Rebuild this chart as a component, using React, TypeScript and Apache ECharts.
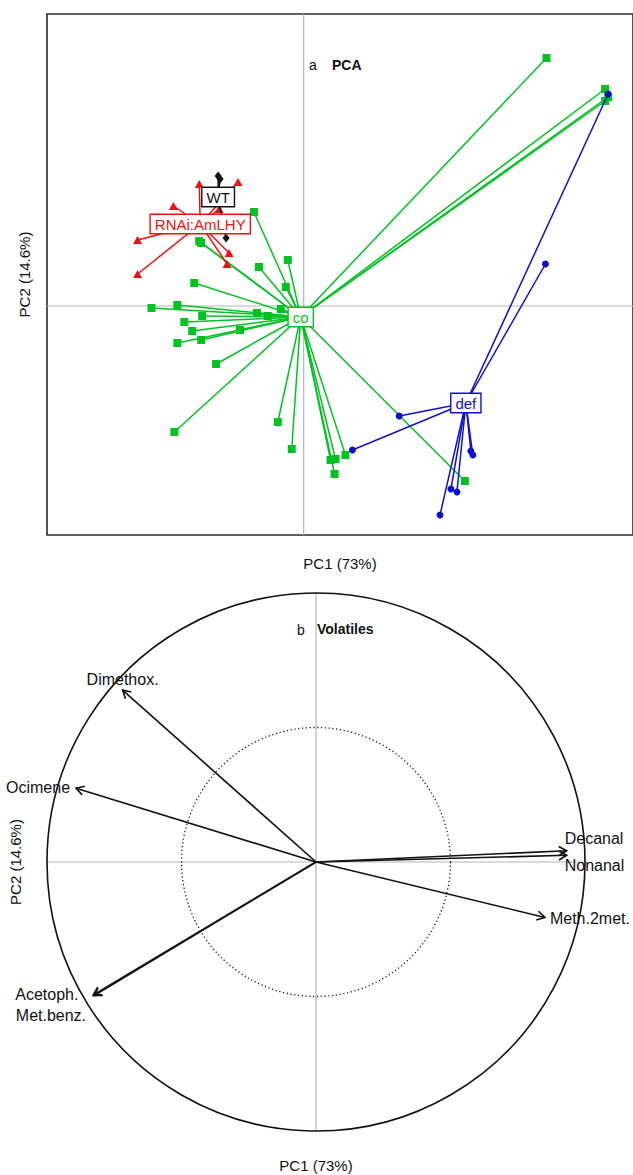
import React, { useEffect, useRef } from "react";
import * as echarts from "echarts";

// ---------------- Panel a: PCA scores ----------------
const GROUP_NAMES = ["co", "def", "RNAi:AmLHY", "WT"];
const GROUP_CENTERS = [
  [-0.03, -0.11],
  [1.63, -0.97],
  [-1.04, 0.82],
  [-0.86, 1.09],
];
const CO_POINTS = [
  [-0.5, 0.94], [-1.05, 0.65], [-1.03, 0.63], [-0.16, 0.46], [-0.45, 0.39],
  [-0.18, 0.19], [-1.1, 0.23], [-1.53, -0.02], [-1.27, 0.01], [-1.02, -0.1],
  [-1.2, -0.16], [-1.12, -0.25], [-1.27, -0.37], [-1.03, -0.34], [-0.64, -0.24],
  [-0.47, -0.07], [-0.36, -0.1], [-0.23, -0.03], [-0.88, -0.58], [-1.3, -1.26],
  [-0.26, -1.16], [-0.12, -1.43], [0.27, -1.54], [0.32, -1.53], [0.31, -1.68],
  [0.42, -1.49], [1.62, -1.75], [2.44, 2.48], [3.03, 2.17], [3.03, 2.05], [3.06, 2.09],
];
const DEF_POINTS = [
  [3.06, 2.12], [2.43, 0.42], [0.96, -1.1], [0.49, -1.44], [1.68, -1.45],
  [1.7, -1.49], [1.48, -1.83], [1.54, -1.86], [1.37, -2.09],
];
const RNAI_POINTS = [
  [-1.05, 1.22], [-0.66, 1.24], [-1.31, 1.0], [-1.67, 0.66], [-1.67, 0.32],
  [-0.75, 0.53], [-0.77, 0.42], [-0.85, 0.97],
];
const WT_POINTS = [
  [-0.86, 1.3], [-0.84, 1.27], [-0.78, 0.68],
];
const PCA_X_RANGE = [-2.58, 3.31];
const PCA_Y_RANGE = [-2.29, 2.92];

// ---------------- Panel b: variable correlations ----------------
const VAR_NAMES = ["Dimethox.", "Ocimene", "Acetoph.", "Met.benz.", "Decanal", "Nonanal", "Meth.2met."];
const VAR_PC1 = [-0.719, -0.892, -0.828, -0.826, 0.932, 0.932, 0.851];
const VAR_PC2 = [0.639, 0.274, -0.494, -0.497, 0.042, 0.025, -0.206];
const CIRCLE_RADII = [1, 0.5];

const AXIS_X_TITLE = "PC1 (73%)";
const AXIS_Y_TITLE = "PC2 (14.6%)";

// styles / layout (not data)
const FONT = "'Liberation Sans', Arial, Helvetica, sans-serif";
const GROUP_COLORS = ["#00c322", "#1010c8", "#ee1111", "#111111"];
const GROUP_SYMBOLS = ["rect", "circle", "triangle", "diamond"];
const GROUP_SYMBOL_SIZES: any[] = [8, 7, [9, 8], [7, 9]];
const VAR_LABEL_LAYOUT = [
  { dx: 0, dy: -11, align: "center" },
  { dx: -6, dy: -1, align: "right" },
  { dx: -78, dy: 0, align: "left" },
  { dx: -78, dy: 20, align: "left" },
  { dx: -2, dy: -12, align: "left" },
  { dx: -2, dy: 10, align: "left" },
  { dx: 5, dy: 1, align: "left" },
];

function segRender(color: string, width: number, dash?: number[]) {
  return (params: any, api: any) => {
    const a = api.coord([api.value(0), api.value(1)]);
    const b = api.coord([api.value(2), api.value(3)]);
    return {
      type: "line",
      shape: { x1: a[0], y1: a[1], x2: b[0], y2: b[1] },
      style: { stroke: color, lineWidth: width, lineDash: dash || null, fill: null },
    };
  };
}

export default function App() {
  const ref = useRef<HTMLDivElement>(null);

  useEffect(() => {
    if (!ref.current) return;
    const chart = echarts.init(ref.current, null, { renderer: "svg" });

    const groupPoints = [CO_POINTS, DEF_POINTS, RNAI_POINTS, WT_POINTS];
    const series: any[] = [];

    // grey cross in panel a
    series.push({
      type: "custom",
      xAxisIndex: 0,
      yAxisIndex: 0,
      renderItem: segRender("#b5b5b5", 1.2),
      data: [
        [0, PCA_Y_RANGE[0], 0, PCA_Y_RANGE[1]],
        [PCA_X_RANGE[0], 0, PCA_X_RANGE[1], 0],
      ],
      silent: true,
      z: 1,
    });

    groupPoints.forEach((pts, gi) => {
      const c = GROUP_CENTERS[gi];
      series.push({
        type: "custom",
        xAxisIndex: 0,
        yAxisIndex: 0,
        renderItem: segRender(GROUP_COLORS[gi], 1.5),
        data: pts.map((p) => [c[0], c[1], p[0], p[1]]),
        z: 2 + gi * 2,
      });
      series.push({
        type: "scatter",
        name: GROUP_NAMES[gi],
        xAxisIndex: 0,
        yAxisIndex: 0,
        symbol: GROUP_SYMBOLS[gi],
        symbolSize: GROUP_SYMBOL_SIZES[gi],
        itemStyle: { color: GROUP_COLORS[gi], opacity: 1 },
        data: pts,
        z: 3 + gi * 2,
      });
    });

    // group labels (boxed text at each group centre)
    series.push({
      type: "custom",
      xAxisIndex: 0,
      yAxisIndex: 0,
      renderItem: (params: any, api: any) => {
        const i = params.dataIndex;
        const p = api.coord([api.value(0), api.value(1)]);
        return {
          type: "text",
          x: p[0],
          y: p[1],
          style: {
            text: GROUP_NAMES[i],
            align: "center",
            verticalAlign: "middle",
            fill: GROUP_COLORS[i],
            fontSize: 15,
            fontFamily: FONT,
            backgroundColor: "#ffffff",
            borderColor: GROUP_COLORS[i],
            borderWidth: 1.4,
            padding: [2, 4, 1, 4],
            opacity: 1,
          },
        };
      },
      data: GROUP_CENTERS.map((c) => [c[0], c[1]]),
      z: 30,
    });

    // panel b: grey cross
    series.push({
      type: "custom",
      xAxisIndex: 1,
      yAxisIndex: 1,
      renderItem: segRender("#b5b5b5", 1.2),
      data: [
        [0, -1, 0, 1],
        [-1, 0, 1, 0],
      ],
      silent: true,
      z: 1,
    });

    // circles
    series.push({
      type: "custom",
      xAxisIndex: 1,
      yAxisIndex: 1,
      renderItem: (params: any, api: any) => {
        const c = api.coord([0, 0]);
        const rad = api.value(0);
        const r = api.size([rad, 0])[0];
        const dotted = rad < 1;
        return {
          type: "circle",
          shape: { cx: c[0], cy: c[1], r },
          style: {
            fill: null,
            stroke: "#111",
            lineWidth: dotted ? 1.3 : 1.6,
            lineDash: dotted ? [1.2, 2.6] : null,
          },
        };
      },
      data: CIRCLE_RADII.map((r) => [r]),
      z: 2,
    });

    // arrows
    series.push({
      type: "custom",
      xAxisIndex: 1,
      yAxisIndex: 1,
      renderItem: (params: any, api: any) => {
        const i = params.dataIndex;
        const o = api.coord([0, 0]);
        const p = api.coord([api.value(0), api.value(1)]);
        const ang = Math.atan2(p[1] - o[1], p[0] - o[0]);
        const L = 9;
        const h1 = [p[0] - L * Math.cos(ang - Math.PI / 6), p[1] - L * Math.sin(ang - Math.PI / 6)];
        const h2 = [p[0] - L * Math.cos(ang + Math.PI / 6), p[1] - L * Math.sin(ang + Math.PI / 6)];
        const lay = VAR_LABEL_LAYOUT[i];
        return {
          type: "group",
          children: [
            {
              type: "line",
              shape: { x1: o[0], y1: o[1], x2: p[0], y2: p[1] },
              style: { stroke: "#111", lineWidth: 1.6 },
            },
            {
              type: "polyline",
              shape: { points: [h1, p, h2] },
              style: { stroke: "#111", lineWidth: 1.6, fill: null },
            },
            {
              type: "text",
              x: p[0] + lay.dx,
              y: p[1] + lay.dy,
              style: {
                text: VAR_NAMES[i],
                align: lay.align,
                verticalAlign: "middle",
                fill: "#111",
                fontSize: 16,
                fontFamily: FONT,
              },
            },
          ],
        };
      },
      data: VAR_NAMES.map((n, i) => [VAR_PC1[i], VAR_PC2[i]]),
      z: 5,
    });

    const hiddenAxis = {
      type: "value",
      axisLine: { show: false },
      axisTick: { show: false },
      axisLabel: { show: false },
      splitLine: { show: false },
      nameLocation: "middle",
      nameTextStyle: { fontSize: 15, color: "#111", fontFamily: FONT },
    };

    chart.setOption({
      animation: false,
      backgroundColor: "#ffffff",
      textStyle: { fontFamily: FONT },
      grid: [
        { left: 47, top: 14, width: 589, height: 521, show: true, borderColor: "#2a2a2a", borderWidth: 1.6, backgroundColor: "transparent", containLabel: false },
        { left: 47, top: 593, width: 538, height: 538, show: false, containLabel: false },
      ],
      xAxis: [
        { ...hiddenAxis, gridIndex: 0, min: PCA_X_RANGE[0], max: PCA_X_RANGE[1], name: AXIS_X_TITLE, nameGap: 21 },
        { ...hiddenAxis, gridIndex: 1, min: -1, max: 1, name: AXIS_X_TITLE, nameGap: 27 },
      ],
      yAxis: [
        { ...hiddenAxis, gridIndex: 0, min: PCA_Y_RANGE[0], max: PCA_Y_RANGE[1], name: AXIS_Y_TITLE, nameGap: 15, nameRotate: 90 },
        { ...hiddenAxis, gridIndex: 1, min: -1, max: 1, name: AXIS_Y_TITLE, nameGap: 24, nameRotate: 90 },
      ],
      graphic: [
        { type: "text", left: 309, top: 58, style: { text: "a", fontSize: 14, fill: "#111", fontFamily: FONT } },
        { type: "text", left: 332, top: 58, style: { text: "PCA", fontSize: 14, fontWeight: "bold", fill: "#111", fontFamily: FONT } },
        { type: "text", left: 297, top: 623, style: { text: "b", fontSize: 14, fill: "#111", fontFamily: FONT } },
        { type: "text", left: 317, top: 622, style: { text: "Volatiles", fontSize: 14, fontWeight: "bold", fill: "#111", fontFamily: FONT } },
      ],
      series,
    });

    return () => chart.dispose();
  }, []);

  return (
    <div
      ref={ref}
      style={{ position: "absolute", left: 0, top: 0, width: 633, height: 1175, background: "#fff" }}
    />
  );
}
